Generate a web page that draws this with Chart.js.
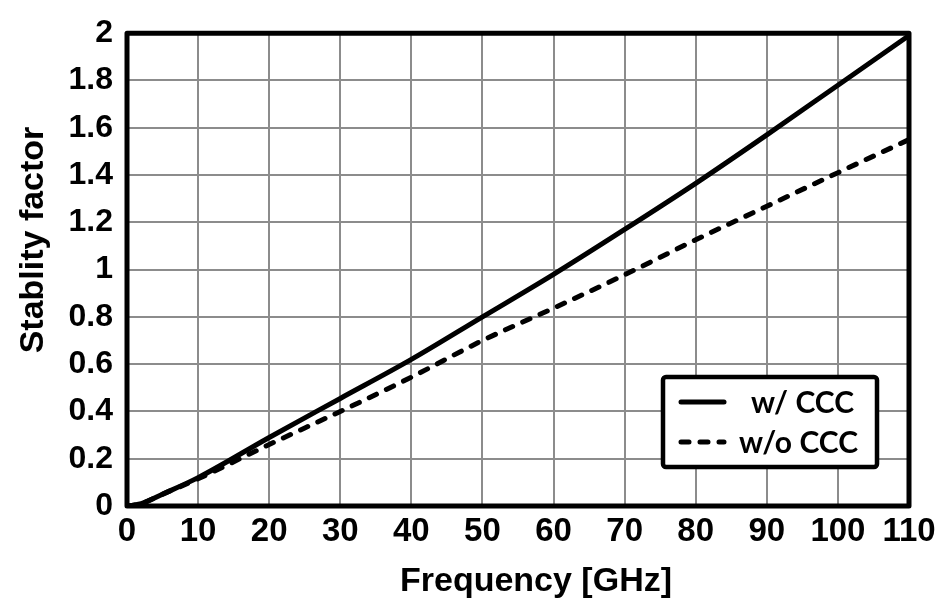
<!DOCTYPE html>
<html>
<head>
<meta charset="utf-8">
<script src="https://cdn.jsdelivr.net/npm/chart.js@4"></script>
<style>
html,body{margin:0;padding:0;background:#fff;}
#wrap{width:948px;height:602px;position:relative;}
</style>
</head>
<body>
<div id="wrap"><canvas id="c" width="948" height="602"></canvas></div>
<script>
const frequency = [0, 2, 5, 10, 20, 30, 40, 50, 60, 70, 80, 90, 100, 110];
const withCCC = [0, 0.01, 0.05, 0.12, 0.29, 0.455, 0.62, 0.80, 0.98, 1.17, 1.365, 1.57, 1.78, 1.99];
const withoutCCC = [0, 0.01, 0.05, 0.115, 0.26, 0.40, 0.545, 0.70, 0.837, 0.978, 1.126, 1.268, 1.41, 1.55];
const seriesLabels = ['w/ CCC', 'w/o CCC'];
const xTicks = [0, 10, 20, 30, 40, 50, 60, 70, 80, 90, 100, 110];
const yTicks = ['0', '0.2', '0.4', '0.6', '0.8', '1', '1.2', '1.4', '1.6', '1.8', '2'];
const xTitle = 'Frequency [GHz]';
const yTitle = 'Stablity factor';

const pts = (arr) => frequency.map((f, i) => ({x: f, y: arr[i]}));

const frameAndText = {
  id: 'frameAndText',
  afterDatasetsDraw(chart) {
    const {ctx, chartArea: a} = chart;
    ctx.save();
    ctx.strokeStyle = '#000';
    ctx.lineWidth = 5;
    ctx.lineJoin = 'round';
    ctx.strokeRect(a.left, a.top, a.right - a.left, a.bottom - a.top);
    // legend
    const lx = 663, ly = 377, lw = 214, lh = 90;
    ctx.fillStyle = '#fff';
    ctx.fillRect(lx, ly, lw, lh);
    ctx.lineWidth = 4.5;
    ctx.beginPath();
    ctx.roundRect(lx, ly, lw, lh, 3);
    ctx.stroke();
    ctx.lineCap = 'round';
    ctx.lineWidth = 5;
    ctx.beginPath(); ctx.moveTo(681, 402); ctx.lineTo(724, 402); ctx.stroke();
    ctx.setLineDash([8, 11]);
    ctx.beginPath(); ctx.moveTo(681, 442); ctx.lineTo(724, 442); ctx.stroke();
    ctx.setLineDash([]);
    ctx.fillStyle = '#000';
    ctx.font = 'bold 30px Lato';
    ctx.textBaseline = 'middle';
    ctx.textAlign = 'right';
    ctx.fillText(seriesLabels[0], 854, 403);
    ctx.fillText(seriesLabels[1], 858, 443);
    // axis titles
    ctx.font = 'bold 34px "Liberation Sans", Arial';
    ctx.textAlign = 'center';
    ctx.textBaseline = 'alphabetic';
    ctx.fillText(xTitle, 536, 591);
    ctx.translate(43, 240);
    ctx.rotate(-Math.PI / 2);
    ctx.fillText(yTitle, 0, 0);
    ctx.restore();
  }
};

new Chart(document.getElementById('c'), {
  type: 'line',
  data: {
    datasets: [
      {label: seriesLabels[0], data: pts(withCCC), borderColor: '#000', borderWidth: 5, pointRadius: 0, cubicInterpolationMode: 'monotone', fill: false},
      {label: seriesLabels[1], data: pts(withoutCCC), borderColor: '#000', borderWidth: 5, borderDash: [8, 11], borderCapStyle: 'round', pointRadius: 0, cubicInterpolationMode: 'monotone', fill: false}
    ]
  },
  options: {
    responsive: false,
    animation: false,
    layout: {padding: {top: 24, right: 39, left: 0, bottom: 0}},
    plugins: {legend: {display: false}, tooltip: {enabled: false}},
    scales: {
      x: {
        type: 'linear', min: 0, max: 110,
        afterFit(s) { s.height = 96; },
        afterBuildTicks(s) { s.ticks = xTicks.map(v => ({value: v})); },
        grid: {color: '#8c8c8c', lineWidth: 2, drawTicks: false},
        border: {display: false},
        ticks: {color: '#000', font: {family: '"Liberation Sans", Arial', weight: 'bold', size: 33}, padding: 6, maxRotation: 0, autoSkip: false}
      },
      y: {
        type: 'linear', min: 0, max: 2,
        afterFit(s) { s.width = 127; },
        afterBuildTicks(s) { s.ticks = yTicks.map(v => ({value: parseFloat(v)})); },
        grid: {color: '#8c8c8c', lineWidth: 2, drawTicks: false},
        border: {display: false},
        ticks: {color: '#000', font: {family: '"Liberation Sans", Arial', weight: 'bold', size: 32}, padding: 14, autoSkip: false,
          callback: (v, i) => yTicks[i]}
      }
    }
  },
  plugins: [frameAndText]
});
</script>
</body>
</html>
